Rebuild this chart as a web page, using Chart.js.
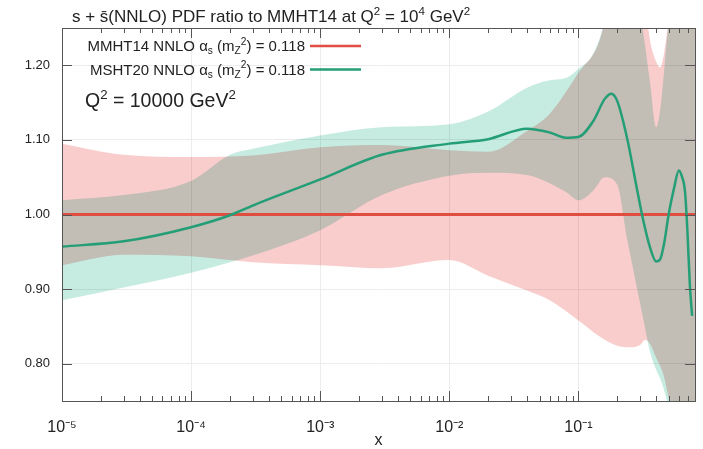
<!DOCTYPE html>
<html>
<head>
<meta charset="utf-8">
<script src="https://cdn.jsdelivr.net/npm/chart.js@4.4.1/dist/chart.umd.min.js"></script>
<style>
  html, body { margin: 0; padding: 0; background: #fff; }
  #wrap { width: 703px; height: 449px; position: relative; }
</style>
</head>
<body>
<div id="wrap"><canvas id="pdf"></canvas></div>
<script>
// s + sbar ratio to MMHT14, Q^2 = 1e4 GeV^2
const X_MIN = 1e-5;
const X_MAX = 0.8;
const decades = [-5, -4, -3, -2, -1];
const yTicks = [0.8, 0.9, 1.0, 1.1, 1.2];

// MMHT14 central (reference = 1)
const xMmht = [1e-5, 0.8];
const mmht14 = [1, 1];

// MMHT14 uncertainty band
const xMmhtBand = [1e-5, 3e-5, 1e-4, 3e-4, 1e-3, 3e-3, 1e-2, 2e-2, 4e-2, 6e-2, 0.1, 0.15, 0.2, 0.25, 0.3, 0.33, 0.36, 0.4, 0.43, 0.46, 0.5, 0.6, 0.8];
const mmhtUpper = [1.095, 1.080, 1.077, 1.079, 1.090, 1.093, 1.086, 1.084, 1.112, 1.135, 1.19, 1.24, 1.35, 1.35, 1.33, 1.28, 1.232, 1.205, 1.197, 1.215, 1.26, 1.35, 1.35];
const mmhtLower = [0.932, 0.946, 0.944, 0.936, 0.932, 0.928, 0.939, 0.918, 0.898, 0.885, 0.858, 0.835, 0.824, 0.822, 0.825, 0.832, 0.826, 0.808, 0.797, 0.783, 0.755, 0.70, 0.65];

// MSHT20 central
const xMsht = [1e-5, 3e-5, 1e-4, 2e-4, 3e-4, 1e-3, 3e-3, 1e-2, 2e-2, 4e-2, 6e-2, 0.08, 0.1, 0.13, 0.16, 0.18, 0.2, 0.24, 0.28, 0.32, 0.36, 0.4, 0.43, 0.46, 0.5, 0.55, 0.6, 0.63, 0.67, 0.7, 0.73, 0.76];
const msht20 = [0.957, 0.964, 0.983, 0.999, 1.012, 1.047, 1.080, 1.095, 1.101, 1.115, 1.110, 1.103, 1.104, 1.125, 1.155, 1.162, 1.152, 1.10, 1.04, 0.99, 0.955, 0.937, 0.94, 0.96, 1.0, 1.035, 1.059, 1.052, 1.03, 0.975, 0.905, 0.864];

// MSHT20 uncertainty band
const xMshtBand = [1e-5, 3e-5, 1e-4, 2e-4, 3e-4, 1e-3, 3e-3, 1e-2, 2e-2, 4e-2, 6e-2, 0.08, 0.1, 0.13, 0.16, 0.2, 0.24, 0.28, 0.32, 0.36, 0.4, 0.43, 0.46, 0.5, 0.6, 0.8];
const mshtUpper = [1.019, 1.026, 1.045, 1.08, 1.088, 1.106, 1.117, 1.121, 1.138, 1.17, 1.18, 1.183, 1.195, 1.215, 1.26, 1.35, 1.35, 1.30, 1.24, 1.175, 1.117, 1.14, 1.19, 1.26, 1.35, 1.35];
const mshtLower = [0.885, 0.902, 0.922, 0.936, 0.945, 0.979, 1.026, 1.052, 1.056, 1.053, 1.042, 1.03, 1.019, 1.032, 1.050, 1.04, 0.965, 0.907, 0.858, 0.815, 0.792, 0.78, 0.765, 0.742, 0.69, 0.64];

const RED = 'rgb(224,78,66)';
const GREEN = 'rgb(36,158,118)';
const PINK = 'rgb(250,205,205)';
const TEAL = 'rgb(198,236,225)';
const FONT = '"Liberation Sans", Arial, sans-serif';
const TXT = '#222';

const SUP = {'-': '\u207B', '0': '\u2070', '1': '\u00B9', '2': '\u00B2', '3': '\u00B3', '4': '\u2074', '5': '\u2075', '6': '\u2076', '7': '\u2077', '8': '\u2078', '9': '\u2079'};
const isDecade = v => Math.abs(Math.log10(v) - Math.round(Math.log10(v))) < 1e-6;
const pts = (xs, ys) => xs.map((x, i) => ({x: x, y: ys[i]}));

function font(size) { return size + 'px ' + FONT; }

function richWidth(ctx, parts, size) {
  let w = 0;
  parts.forEach(p => { ctx.font = font(p[1] ? size * 0.68 : size); w += ctx.measureText(p[0]).width; });
  return w;
}

function drawRich(ctx, parts, x, y, size, align) {
  let cx = align === 'right' ? x - richWidth(ctx, parts, size) : x;
  ctx.textAlign = 'left';
  ctx.textBaseline = 'alphabetic';
  parts.forEach(p => {
    const k = p[1];
    ctx.font = font(k ? size * 0.68 : size);
    const dy = k === 'sup' ? -size * 0.42 : (k === 'sub' ? size * 0.2 : 0);
    ctx.fillText(p[0], cx, y + dy);
    cx += ctx.measureText(p[0]).width;
  });
}

const legendRows = [
  {ds: 1, parts: [['MMHT14 NNLO \u03B1'], ['s', 'sub'], [' (m'], ['Z', 'sub'], ['2', 'sup'], [') = 0.118']]},
  {ds: 0, parts: [['MSHT20 NNLO \u03B1'], ['s', 'sub'], [' (m'], ['Z', 'sub'], ['2', 'sup'], [') = 0.118']]}
];

const whiteBg = {
  id: 'whiteBg',
  beforeDraw(chart) {
    const ctx = chart.ctx;
    ctx.save();
    ctx.fillStyle = '#fff';
    ctx.fillRect(0, 0, chart.width, chart.height);
    ctx.restore();
  }
};

// bands are blended with multiply so the overlap turns grey
const blend = {
  id: 'blend',
  beforeDatasetsDraw(chart) {
    chart.ctx.save();
    chart.ctx.globalCompositeOperation = 'multiply';
  },
  beforeDatasetDraw(chart, args) {
    const ds = chart.data.datasets[args.index];
    if (!ds.band) chart.ctx.globalCompositeOperation = 'source-over';
  },
  afterDatasetDraw(chart) {
    chart.ctx.globalCompositeOperation = 'multiply';
  },
  afterDatasetsDraw(chart) {
    chart.ctx.restore();
  }
};

const frame = {
  id: 'frame',
  afterDatasetsDraw(chart) {
    const {ctx, chartArea: a} = chart;
    const xs = chart.scales.x, ys = chart.scales.y;
    ctx.save();
    ctx.strokeStyle = '#555';
    ctx.lineWidth = 1;
    ctx.beginPath();
    xs.ticks.forEach(t => {
      const px = Math.round(xs.getPixelForValue(t.value)) + 0.5;
      const len = isDecade(t.value) ? 10 : 5;
      ctx.moveTo(px, a.bottom); ctx.lineTo(px, a.bottom - len);
      ctx.moveTo(px, a.top); ctx.lineTo(px, a.top + len);
    });
    ys.ticks.forEach(t => {
      const py = Math.round(ys.getPixelForValue(t.value)) + 0.5;
      ctx.moveTo(a.left, py); ctx.lineTo(a.left + 10, py);
      ctx.moveTo(a.right, py); ctx.lineTo(a.right - 10, py);
    });
    ctx.stroke();
    ctx.strokeRect(Math.round(a.left) + 0.5, Math.round(a.top) + 0.5, Math.round(a.right - a.left), Math.round(a.bottom - a.top));
    ctx.restore();
  },
  afterDraw(chart) {
    const ctx = chart.ctx;
    ctx.save();
    ctx.fillStyle = TXT;
    drawRich(ctx, [['s + s\u0304(NNLO) PDF ratio to MMHT14 at Q'], ['2', 'sup'], [' = 10'], ['4', 'sup'], [' GeV'], ['2', 'sup']], 72, 22, 17, 'left');
    legendRows.forEach((row, i) => {
      const y = 46 + i * 23.5;
      ctx.fillStyle = TXT;
      drawRich(ctx, row.parts, 305, y + 5, 15, 'right');
      ctx.strokeStyle = chart.data.datasets[row.ds].borderColor;
      ctx.lineWidth = 2.5;
      ctx.beginPath();
      ctx.moveTo(310, y); ctx.lineTo(361, y);
      ctx.stroke();
    });
    ctx.fillStyle = TXT;
    drawRich(ctx, [['Q'], ['2', 'sup'], [' = 10000 GeV'], ['2', 'sup']], 85, 107, 19.5, 'left');
    ctx.restore();
  }
};

const line = (label, xs, ys, color, width, order) => ({
  label: label, data: pts(xs, ys), borderColor: color, borderWidth: width,
  pointRadius: 0, fill: false, cubicInterpolationMode: 'monotone', order: order
});
const band = (label, xs, ys, color, fill, order) => ({
  label: label, data: pts(xs, ys), band: true, borderWidth: 0, borderColor: 'rgba(0,0,0,0)',
  backgroundColor: color, pointRadius: 0, fill: fill, cubicInterpolationMode: 'monotone', order: order
});

new Chart(document.getElementById('pdf'), {
  type: 'line',
  data: {
    datasets: [
      line('MSHT20 NNLO', xMsht, msht20, GREEN, 2.5, 0),
      line('MMHT14 NNLO', xMmht, mmht14, RED, 3, 1),
      band('MSHT20 upper', xMshtBand, mshtUpper, TEAL, '+1', 2),
      band('MSHT20 lower', xMshtBand, mshtLower, TEAL, false, 3),
      band('MMHT14 upper', xMmhtBand, mmhtUpper, PINK, '+1', 4),
      band('MMHT14 lower', xMmhtBand, mmhtLower, PINK, false, 5)
    ]
  },
  options: {
    responsive: true,
    maintainAspectRatio: false,
    animation: false,
    layout: { padding: { top: 28, right: 8, left: 0, bottom: 0 } },
    plugins: {
      legend: { display: false },
      tooltip: { enabled: false },
      title: { display: false }
    },
    scales: {
      x: {
        type: 'logarithmic',
        min: X_MIN,
        max: X_MAX,
        afterBuildTicks: s => {
          const t = [];
          decades.forEach(e => {
            for (let m = 1; m <= 9; m++) {
              const v = m * Math.pow(10, e);
              if (v <= X_MAX * 1.0001) t.push({value: v});
            }
          });
          s.ticks = t;
        },
        afterFit: s => { s.height = 48; s.paddingLeft = 0; s.paddingRight = 0; },
        grid: {
          drawTicks: false,
          color: c => (c.tick && isDecade(c.tick.value)) ? '#ececec' : 'rgba(0,0,0,0)'
        },
        border: { display: false },
        ticks: {
          autoSkip: false,
          maxRotation: 0,
          padding: 17,
          color: TXT,
          font: { family: FONT, size: 16 },
          callback: v => isDecade(v) ? '10' + String(Math.round(Math.log10(v))).split('').map(ch => SUP[ch]).join('') : ''
        },
        title: {
          display: true,
          text: 'x',
          color: TXT,
          font: { family: FONT, size: 16, lineHeight: 1 },
          padding: { top: 0, bottom: 0 }
        }
      },
      y: {
        min: 0.75,
        max: 1.25,
        afterBuildTicks: s => { s.ticks = yTicks.map(v => ({value: v})); },
        afterFit: s => { s.width = 62; },
        grid: { drawTicks: false, color: '#ececec' },
        border: { display: false },
        ticks: {
          padding: 12,
          color: TXT,
          font: { family: FONT, size: 13 },
          callback: v => v.toFixed(2)
        }
      }
    }
  },
  plugins: [whiteBg, blend, frame]
});
</script>
</body>
</html>
